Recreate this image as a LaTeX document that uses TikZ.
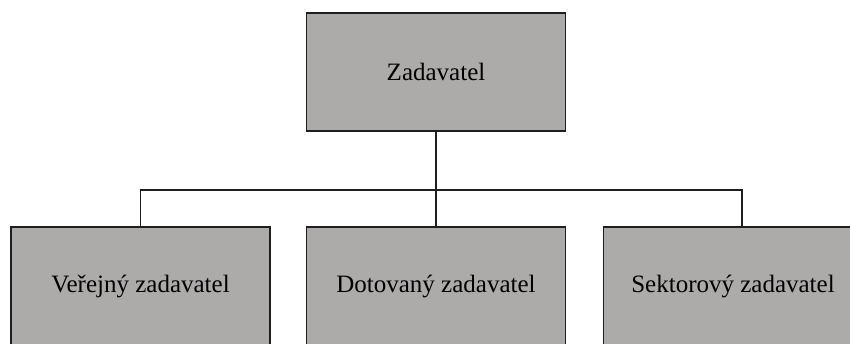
\documentclass[tikz,border=0pt]{standalone}
\usepackage{fontspec}
\setmainfont{Liberation Serif}
\definecolor{boxgray}{HTML}{ADAAAA}
\definecolor{edge}{HTML}{1E1E1E}
\begin{document}
\begin{tikzpicture}[x=1pt,y=-1pt,
  box/.style={draw=edge, line width=1.6pt, fill=boxgray, minimum width=259pt, minimum height=118pt, inner sep=0pt, font=\fontsize{25}{30}\selectfont},
  conn/.style={draw=edge, line width=1.6pt}]
\useasboundingbox (0,0) rectangle (850,343);
\clip (0,0) rectangle (850,343);
\node[box] (top) at (436,72) {Zadavatel};
\node[box] (l) at (140.5,286) {Veřejný zadavatel};
\node[box] (m) at (436,286) {Dotovaný zadavatel};
\node[box] (r) at (733,286) {Sektorový zadavatel};
\coordinate (bus) at (0,190);
\draw[conn] (top.south) -- (top.south |- bus);
\draw[conn] (l.north) -- (l.north |- bus) -- ([xshift=9pt]r.north |- bus) -- ([xshift=9pt]r.north);
\draw[conn] (m.north) -- (m.north |- bus);
\end{tikzpicture}
\end{document}
